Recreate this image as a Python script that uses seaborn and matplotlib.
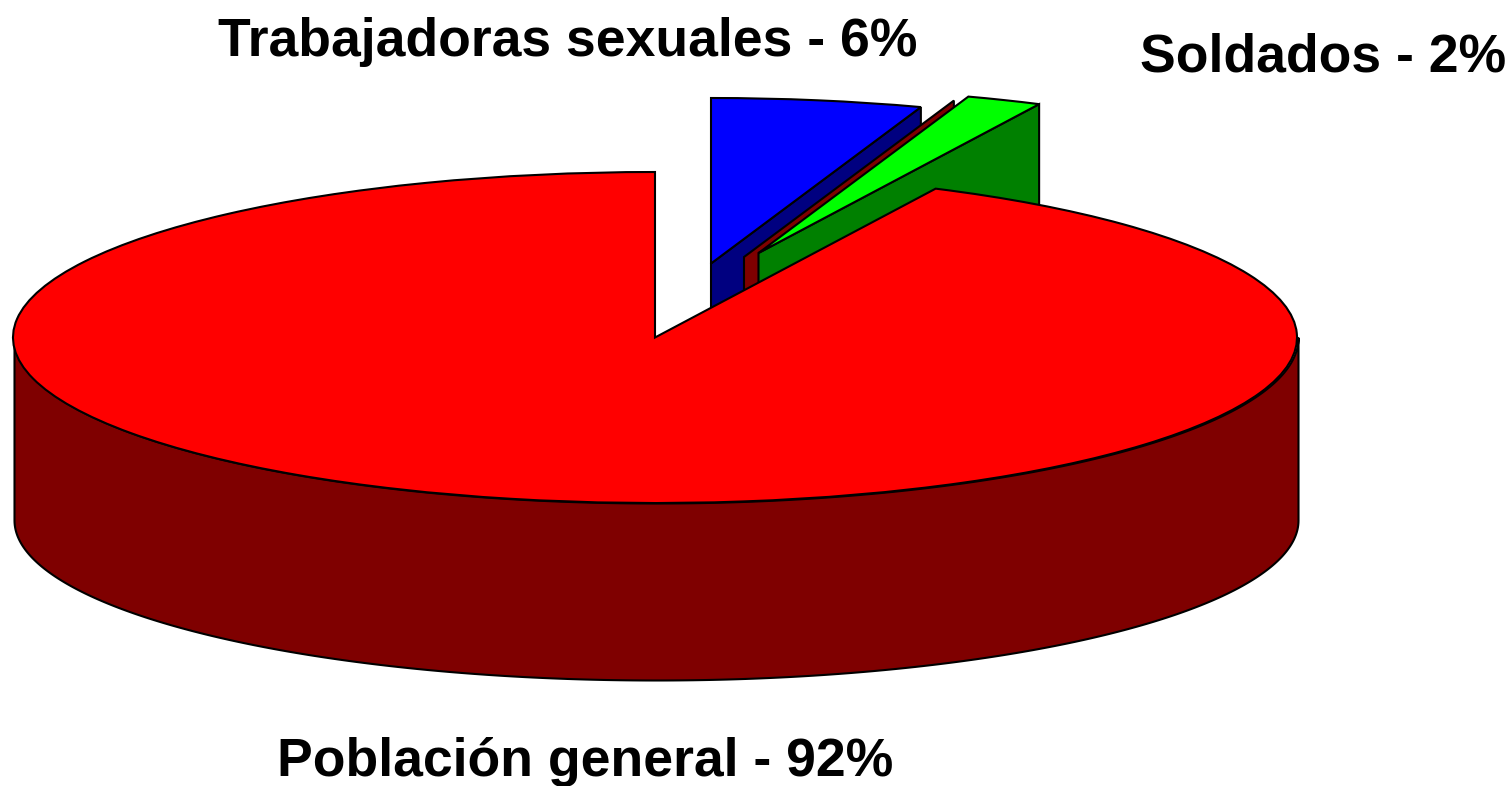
import numpy as np
import matplotlib
matplotlib.use("Agg")
import matplotlib.pyplot as plt
import seaborn as sns

# shares (labels are rounded)
grupos = ["Trabajadoras sexuales", "Soldados", "Población general"]
valores = [5.3, 1.9, 92.8]
etiquetas = ["Trabajadoras sexuales - 6%", "Soldados - 2%", "Población general - 92%"]

W, H = 1510, 786
CX, CY = 656, 337.5   # centre of the big ellipse, px
RX, RY = 642, 165.5

sns.set_theme(style="white")
plt.rcParams["font.family"] = ["Liberation Sans", "DejaVu Sans"]
LW = 1.5

fig = plt.figure(figsize=(W / 100, H / 100), dpi=100)
ax = fig.add_axes([0, 0, 1, 1])


def dx(px):
    return (px - CX) / RX


def dy(py):
    return (CY - py) / RY


def porcion(inicio, valor, centro, color):
    wedges, _ = ax.pie([valor, 100 - valor], startangle=90 - inicio * 3.6, counterclock=False,
                       center=(dx(centro[0]), dy(centro[1])), colors=[color, "none"],
                       wedgeprops=dict(edgecolor="black", linewidth=LW))
    wedges[1].set_visible(False)


def cara(compartido, centro, color, prof=183):
    # radial side face of a slice, seen from the front
    ang = np.deg2rad(90 - compartido * 3.6)
    x0, y0 = dx(centro[0]), dy(centro[1])
    x1, y1 = x0 + np.cos(ang), y0 + np.sin(ang)
    d = prof / RY
    ax.fill([x0, x1, x1, x0], [y0, y1, y1 - d, y0 - d], facecolor=color, edgecolor="black", linewidth=LW)


centro_trab = (711, 263.5)
centro_rojo = (744, 257)
centro_sold = (758.5, 253)
centro_pob = (655, 337.5)

# blue slice
cara(valores[0], centro_trab, "#000080")
porcion(0, valores[0], centro_trab, "#0000ff")

# green slice with the thin maroon strip behind it
cara(valores[0], centro_rojo, "#7f0000")
cara(valores[0] + valores[1], centro_sold, "#008000")
porcion(valores[0], valores[1], centro_sold, "#00ff00")

# big red slice: wall first, then top
t = np.linspace(np.pi, 2 * np.pi, 300)
x_borde = np.cos(t)
y_arriba = np.sin(t)
y_abajo = dy(520) + np.sin(t) * 160 / RY
ax.fill_between(x_borde, y_arriba, y_abajo, facecolor="#7f0000", edgecolor="black", linewidth=LW)
porcion(valores[0] + valores[1], valores[2], centro_pob, "#ff0000")

ax.set_aspect("auto")
ax.set_xlim(dx(0), dx(W))
ax.set_ylim(dy(H), dy(0))
ax.axis("off")

# labels: left edge and baseline in px
pos_etiquetas = [(218, 56), (1140, 72), (277, 776)]
for txt, (px, py) in zip(etiquetas, pos_etiquetas):
    fig.text(px / W, 1 - py / H, txt, ha="left", va="baseline", fontsize=38.5,
             fontweight="bold", color="black")

fig.savefig("out.png", dpi=100)
